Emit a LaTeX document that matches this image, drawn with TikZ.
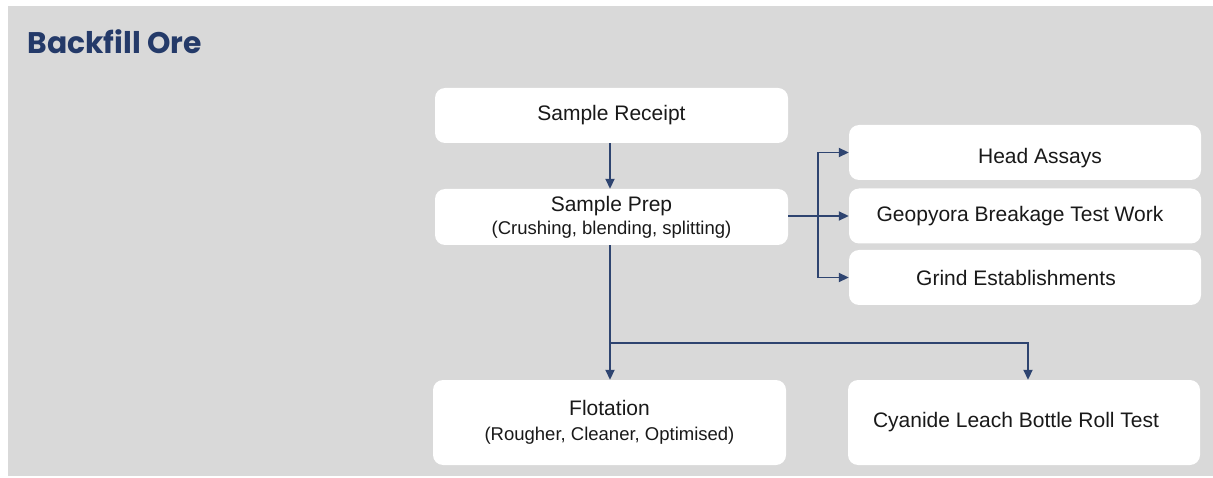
\documentclass[tikz,border=0pt]{standalone}
\usepackage{fontspec}
\setmainfont{Liberation Sans}
\newfontfamily\titlefont{Poppins}
\usetikzlibrary{arrows.meta,positioning}
\definecolor{bggray}{RGB}{217,217,217}
\definecolor{flowblue}{RGB}{46,68,112}
\definecolor{titleblue}{RGB}{36,58,105}

\begin{document}
\begin{tikzpicture}[x=1pt, y=-1pt,
    box/.style={rectangle, rounded corners=10pt, fill=white, draw=none,
                minimum width=353pt, align=center, inner sep=0pt,
                font=\fontsize{21}{25}\selectfont, text=black!90},
    tallbox/.style={box, minimum height=85pt},
    arr/.style={-{Triangle[length=10pt, width=9pt]}, flowblue, line width=1.8pt},
    link/.style={flowblue, line width=1.8pt}]
\newcommand{\subline}[1]{{\fontsize{18.5}{22}\selectfont #1}}
\useasboundingbox (0,0) rectangle (1213,478);
\fill[bggray] (8,6) rectangle (1213,476);
\node[anchor=base west, text=titleblue, font=\titlefont\bfseries\fontsize{29.8}{34}\selectfont]
    (title) at (24,54) {Backfill Ore};
% top column
\node[box, minimum height=55pt] (receipt) at (611.5,115.5) {Sample Receipt};
\node[box, minimum height=56pt] (prep) at (611.5,217)
    {Sample Prep\\[-2pt]\subline{(Crushing, blending, splitting)}};
% right column
\node[box, minimum width=352pt, minimum height=55pt] (head) at (1025,152.5)
    {\raisebox{-6pt}[\height][\depth]{\hspace*{30pt}Head Assays}};
\node[box, minimum width=352pt, minimum height=55pt] (geo) at (1025,216) {\hspace*{-10pt}Geopyora Breakage Test Work};
\node[box, minimum width=352pt, minimum height=55pt] (grind) at (1025,277.5) {\hspace*{-18pt}Grind Establishments};
% bottom row
\node[tallbox] (flot) at (609.5,422.5)
    {Flotation\\[0pt]\subline{(Rougher, Cleaner, Optimised)}};
\node[tallbox, minimum width=352pt] (cyan) at (1024,422.5) {\hspace*{-16pt}Cyanide Leach Bottle Roll Test};
% connectors
\coordinate (split) at (818,216);
\coordinate (tee) at (610,343);
\draw[arr] (receipt.south -| tee) -- (prep.north -| tee);
\draw[link] (prep.east |- split) -- (split);
\draw[arr] (split) |- (head.west);
\draw[arr] (split) -- (geo.west);
\draw[arr] (split) |- (grind.west);
\draw[arr] (prep.south -| tee) -- (flot.north -| tee);
\draw[arr] (tee) -| ([xshift=4pt]cyan.north);
\end{tikzpicture}
\end{document}
